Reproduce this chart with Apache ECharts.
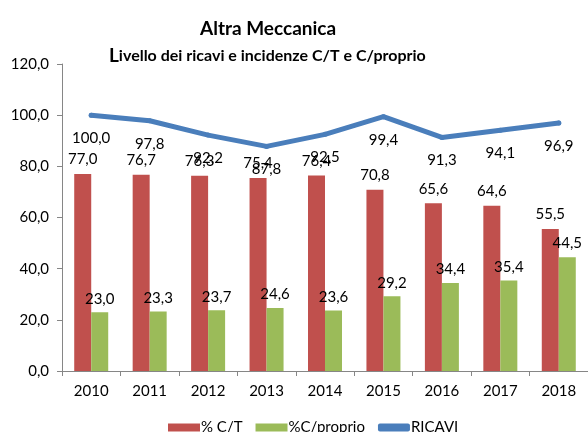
<!DOCTYPE html>
<html>
<head>
<meta charset="utf-8">
<script src="https://cdn.jsdelivr.net/npm/echarts@6/dist/echarts.min.js"></script>
<style>
  html, body { margin: 0; padding: 0; background: #fff; }
  #chart { width: 588px; height: 432px; }
</style>
</head>
<body>
<div id="chart"></div>
<script>
const years = ['2010', '2011', '2012', '2013', '2014', '2015', '2016', '2017', '2018']
const pctCT = [77.0, 76.7, 76.3, 75.4, 76.4, 70.8, 65.6, 64.6, 55.5]
const pctProprio = [23.0, 23.3, 23.7, 24.6, 23.6, 29.2, 34.4, 35.4, 44.5]
const ricavi = [100.0, 97.8, 92.2, 87.8, 92.5, 99.4, 91.3, 94.1, 96.9]

const font = 'Lato, "Open Sans", sans-serif'
const fmt = p => p.value.toFixed(1).replace('.', ',')

const chart = echarts.init(document.getElementById('chart'), null, { renderer: 'canvas' })
chart.setOption({
  backgroundColor: '#fff',
  animation: false,
  textStyle: { fontFamily: font },
  title: [
    {
      text: 'Altra Meccanica',
      left: 195, top: 14,
      textStyle: { fontSize: 19, fontWeight: 'bold', color: '#000', fontFamily: font }
    },
    {
      text: '{big|L}ivello dei ricavi e incidenze C/T e C/proprio',
      left: 104, top: 41,
      textStyle: {
        fontSize: 16, fontWeight: 'bold', color: '#000', fontFamily: font,
        rich: { big: { fontSize: 19, fontWeight: 'bold', color: '#000', fontFamily: font } }
      }
    }
  ],
  legend: {
    bottom: -8,
    left: 163,
    itemWidth: 32,
    itemHeight: 8,
    itemGap: 13,
    textStyle: { fontSize: 15, color: '#000', fontFamily: font, padding: [0, 0, 0, -4] },
    data: [
      { name: '% C/T', icon: 'rect' },
      { name: '%C/proprio', icon: 'rect' },
      { name: 'RICAVI', icon: 'roundRect' }
    ]
  },
  grid: { left: 62, top: 64, width: 529, height: 307, containLabel: false },
  xAxis: {
    type: 'category',
    data: years,
    axisLine: { lineStyle: { color: '#868686' } },
    axisTick: { show: true, length: 5, lineStyle: { color: '#868686' } },
    axisLabel: { color: '#000', fontSize: 15, margin: 13, fontFamily: font }
  },
  yAxis: {
    type: 'value',
    min: 0, max: 120, interval: 20,
    splitLine: { show: false },
    axisLine: { show: true, lineStyle: { color: '#868686' } },
    axisTick: { show: true, length: 5, lineStyle: { color: '#868686' } },
    axisLabel: { color: '#000', fontSize: 15, margin: 13, fontFamily: font,
      formatter: v => v.toFixed(1).replace('.', ',') }
  },
  series: [
    {
      name: '% C/T', type: 'bar', data: pctCT,
      barWidth: 17, barGap: '0%',
      itemStyle: { color: '#c0504d' },
      label: { show: true, position: 'top', distance: 7, fontSize: 15, color: '#000', formatter: fmt }
    },
    {
      name: '%C/proprio', type: 'bar', data: pctProprio,
      barWidth: 17, barGap: '0%',
      itemStyle: { color: '#9bbb59' },
      label: { show: true, position: 'top', distance: 6, fontSize: 15, color: '#000', formatter: fmt }
    },
    {
      name: 'RICAVI', type: 'line', data: ricavi,
      showSymbol: true, symbol: 'circle', symbolSize: 5,
      itemStyle: { color: '#4a7ebb' },
      lineStyle: { color: '#4a7ebb', width: 5, cap: 'round', join: 'round' },
      labelLayout: { hideOverlap: false },
      label: { show: true, position: 'bottom', distance: 13, fontSize: 15, color: '#000', formatter: fmt }
    }
  ]
})
</script>
</body>
</html>
